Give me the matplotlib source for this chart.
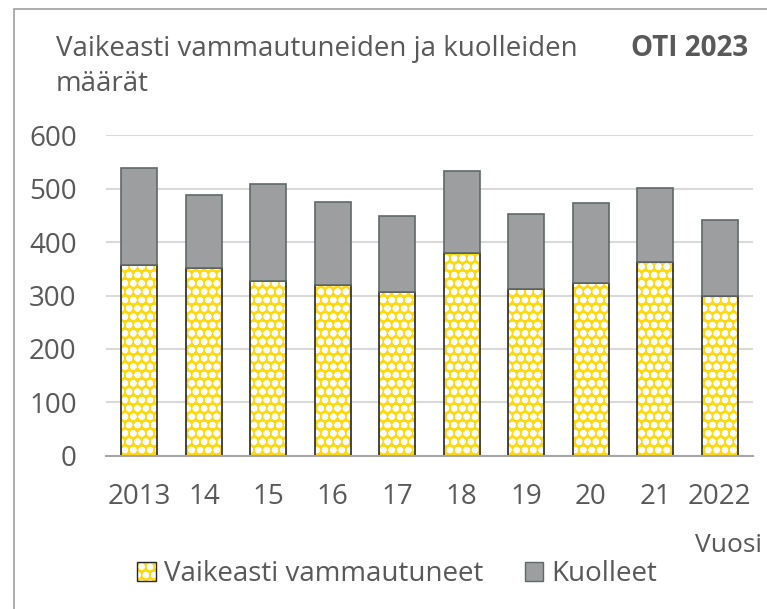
import matplotlib.pyplot as plt
import matplotlib.patches as mpatches
import numpy as np

plt.rcParams['font.family'] = ['Open Sans', 'DejaVu Sans']
plt.rcParams['hatch.linewidth'] = 2.2

years = ['2013', '14', '15', '16', '17', '18', '19', '20', '21', '2022']
injured = [357, 352, 328, 319, 307, 379, 312, 323, 362, 300]
killed = [181, 136, 181, 157, 142, 155, 140, 151, 140, 142]

text_col = '#595959'
yellow = '#ffd90f'
grey = '#9d9e9f'

fig = plt.figure(figsize=(7.67, 6.09), dpi=100)
ax = fig.add_axes([0.138, 0.2517, 0.844, 0.5261])

x = np.arange(len(years))
w = 0.56

# patterned bottom part: yellow with white hatch, then outline on top
ax.bar(x, injured, w, color=yellow, edgecolor='white', hatch='oo', linewidth=0, zorder=2)
ax.bar(x, injured, w, fill=False, edgecolor='#262626', linewidth=1.2, zorder=3)
ax.bar(x, killed, w, bottom=injured, color=grey, edgecolor='#5f6868', linewidth=1.2, zorder=3)

ax.set_ylim(0, 600)
ax.set_xlim(-0.52, 9.52)
ax.set_yticks(range(0, 601, 100))
ax.set_xticks(x)
ax.set_xticklabels(years)
ax.grid(axis='y', color='#d9d9d9', linewidth=1.5, zorder=0)
ax.set_axisbelow(True)
for s in ['top', 'right', 'left']:
    ax.spines[s].set_visible(False)
ax.spines['bottom'].set_color('#a6a6a6')
ax.spines['bottom'].set_linewidth(1.5)
ax.spines['bottom'].set_zorder(4)
ax.tick_params(axis='both', length=0, colors=text_col, labelsize=20)
ax.tick_params(axis='y', pad=21)
ax.tick_params(axis='x', pad=20)

fig.text(0.073, 0.891, 'Vaikeasti vammautuneiden ja kuolleiden\nmäärät', fontsize=20,
         color=text_col, ha='left', va='center', linespacing=1.33)
fig.text(0.975, 0.921, 'OTI 2023', fontsize=20, fontweight='bold', color=text_col,
         ha='right', va='center')
fig.text(0.994, 0.105, 'Vuosi', fontsize=19, color=text_col, ha='right', va='center')

# legend handle for the patterned series: hatch layer + outline layer
h1a = mpatches.Patch(facecolor=yellow, edgecolor='white', hatch='oo', linewidth=0)
h1b = mpatches.Patch(fill=False, edgecolor='#262626', linewidth=1)
h2 = mpatches.Patch(facecolor=grey, edgecolor='#5f6868', linewidth=1)
fig.legend([(h1a, h1b), h2], ['Vaikeasti vammautuneet', 'Kuolleet'], loc='center',
           bbox_to_anchor=(0.518, 0.057), ncol=2, frameon=False, fontsize=20,
           labelcolor=text_col, handlelength=0.65, handleheight=0.7, handletextpad=0.3,
           columnspacing=1.5)

# outer frame
fig.add_artist(mpatches.Rectangle((0.018, -0.01), 1.0, 0.995, transform=fig.transFigure,
                                  fill=False, edgecolor='#a0a0a0', linewidth=1.2))

fig.savefig('out.png', dpi=100)
